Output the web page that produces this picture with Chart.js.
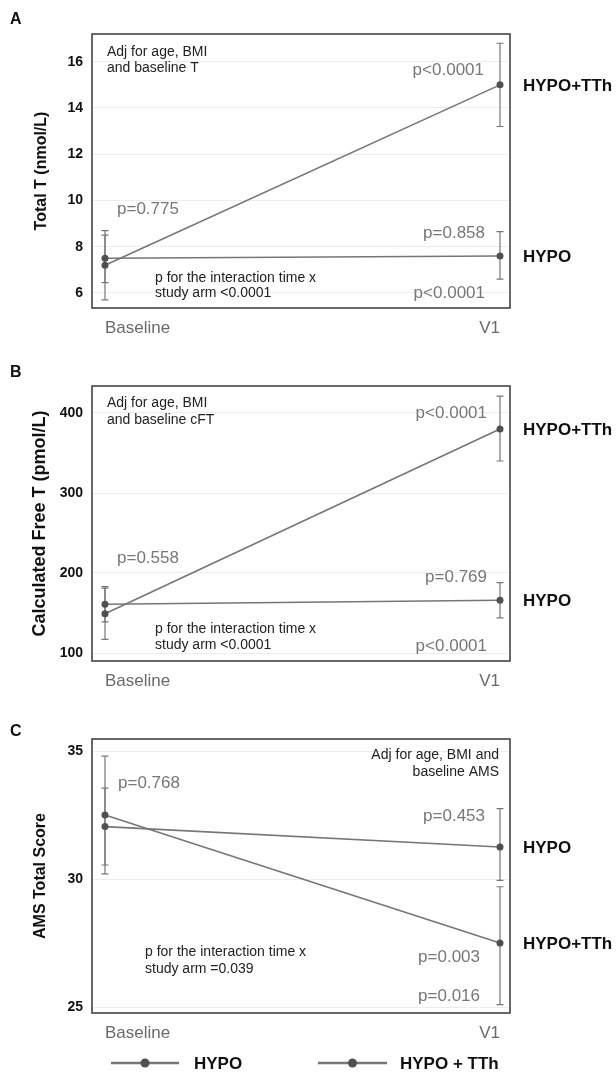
<!DOCTYPE html>
<html><head><meta charset="utf-8">
<script src="https://cdn.jsdelivr.net/npm/chart.js@4.4.1/dist/chart.umd.min.js"></script>
<style>
html,body{margin:0;padding:0;background:#fff;width:616px;height:1072px;overflow:hidden;position:relative}
canvas{position:absolute;left:0}
</style></head><body>
<canvas id="cA" width="616" height="345" style="top:0px"></canvas>
<canvas id="cB" width="616" height="355" style="top:340px"></canvas>
<canvas id="cC" width="616" height="377" style="top:695px"></canvas>
<script>
// ---------- data ----------
const timepoints = ['Baseline', 'V1'];
const seriesLabels = ['HYPO', 'HYPO+TTh'];
const legendLabels = ['HYPO', 'HYPO + TTh'];

// Panel A: Total T (nmol/L)
const hypoA = [7.5, 7.6];
const hypoA_lo = [6.45, 6.6];
const hypoA_hi = [8.5, 8.65];
const tthA = [7.2, 15.0];
const tthA_lo = [5.7, 13.2];
const tthA_hi = [8.7, 16.8];
const ticksA = [6, 8, 10, 12, 14, 16];

// Panel B: Calculated Free T (pmol/L)
const hypoB = [161, 166];
const hypoB_lo = [139, 144];
const hypoB_hi = [183, 188];
const tthB = [149, 380];
const tthB_lo = [117, 340];
const tthB_hi = [181, 421];
const ticksB = [100, 200, 300, 400];

// Panel C: AMS Total Score
const hypoC = [32.05, 31.25];
const hypoC_lo = [30.55, 29.95];
const hypoC_hi = [33.55, 32.75];
const tthC = [32.5, 27.5];
const tthC_lo = [30.2, 25.1];
const tthC_hi = [34.8, 29.7];
const ticksC = [25, 30, 35];

// ---------- drawing ----------
const FONT = '"Liberation Sans", Arial, Helvetica, sans-serif';
const GRAY = '#777777';
const LINE = '#767676';
const DOT = '#505050';

function pts(vals, lo, hi) {
  return timepoints.map((t, i) => ({x: i, y: vals[i], lo: lo[i], hi: hi[i]}));
}

function makePanel(cfg) {
  const top = cfg.canvasTop;
  const plugin = {
    id: 'panel' + cfg.letter,
    beforeDatasetsDraw(chart) {
      const {ctx} = chart;
      const x = chart.scales.x, y = chart.scales.y;
      ctx.save();
      ctx.strokeStyle = GRAY;
      ctx.lineWidth = 1.2;
      chart.data.datasets.forEach(ds => {
        ds.data.forEach(p => {
          const px = x.getPixelForValue(p.x);
          const pl = y.getPixelForValue(p.lo), ph = y.getPixelForValue(p.hi);
          ctx.beginPath();
          ctx.moveTo(px, ph); ctx.lineTo(px, pl);
          ctx.moveTo(px - 3.5, ph); ctx.lineTo(px + 3.5, ph);
          ctx.moveTo(px - 3.5, pl); ctx.lineTo(px + 3.5, pl);
          ctx.stroke();
        });
      });
      ctx.restore();
    },
    afterDraw(chart) {
      const {ctx, chartArea: ca} = chart;
      const x = chart.scales.x, y = chart.scales.y;
      ctx.save();
      // plot frame
      ctx.strokeStyle = '#444';
      ctx.lineWidth = 1.6;
      ctx.strokeRect(ca.left, ca.top, ca.right - ca.left, ca.bottom - ca.top);
      // panel letter
      ctx.fillStyle = '#111';
      ctx.font = 'bold 16px ' + FONT;
      ctx.textBaseline = 'middle';
      ctx.textAlign = 'left';
      ctx.fillText(cfg.letter, 10, cfg.letterY - top);
      // annotations
      cfg.notes.forEach(n => {
        ctx.font = (n.p ? '17px ' : '14px ') + FONT;
        ctx.fillStyle = n.p ? GRAY : '#222';
        ctx.textAlign = n.align || 'left';
        ctx.fillText(n.t, n.x, n.y - top);
      });
      // right-hand series labels at V1 values
      ctx.font = 'bold 17px ' + FONT;
      ctx.fillStyle = '#111';
      ctx.textAlign = 'left';
      chart.data.datasets.forEach((ds, i) => {
        const py = y.getPixelForValue(ds.data[ds.data.length - 1].y);
        ctx.fillText(seriesLabels[i], ca.right + 13, py + 1);
      });
      // legend
      if (cfg.legend) {
        const ly = cfg.legend.y - top;
        cfg.legend.items.forEach((it, i) => {
          ctx.strokeStyle = LINE;
          ctx.lineWidth = 2.5;
          ctx.beginPath();
          ctx.moveTo(it.x0, ly); ctx.lineTo(it.x1, ly);
          ctx.stroke();
          ctx.fillStyle = DOT;
          ctx.beginPath();
          ctx.arc((it.x0 + it.x1) / 2, ly, 4.5, 0, Math.PI * 2);
          ctx.fill();
          ctx.fillStyle = '#111';
          ctx.font = 'bold 17px ' + FONT;
          ctx.textAlign = 'left';
          ctx.fillText(legendLabels[i], it.tx, ly + 1);
        });
      }
      ctx.restore();
    }
  };

  return new Chart(document.getElementById(cfg.id), {
    type: 'line',
    data: {
      datasets: [
        {label: legendLabels[0], data: cfg.hypo},
        {label: legendLabels[1], data: cfg.tth}
      ].map(d => Object.assign(d, {
        borderColor: LINE, borderWidth: 1.6, fill: false, tension: 0,
        pointRadius: 3.5, pointBackgroundColor: DOT, pointBorderColor: DOT,
        pointBorderWidth: 0, pointHoverRadius: 3.5
      }))
    },
    options: {
      responsive: false,
      animation: false,
      devicePixelRatio: 1,
      layout: {padding: {top: cfg.padTop, right: 106, bottom: 0, left: 0}},
      plugins: {legend: {display: false}, tooltip: {enabled: false}},
      scales: {
        x: {
          type: 'linear', min: -0.0329, max: 1.0253,
          afterBuildTicks: s => { s.ticks = timepoints.map((t, i) => ({value: i})); },
          afterFit: s => { s.height = cfg.xHeight; },
          grid: {display: false}, border: {display: false},
          ticks: {
            callback: v => timepoints[v], align: 'inner', autoSkip: false,
            maxRotation: 0, padding: 2, color: '#6a6a6a',
            font: {family: FONT, size: 17}
          }
        },
        y: {
          type: 'linear', min: cfg.min, max: cfg.max,
          afterBuildTicks: s => { s.ticks = cfg.ticks.map(v => ({value: v})); },
          afterFit: s => { s.width = 92; },
          grid: {color: '#ededed', lineWidth: 1, drawTicks: false},
          border: {display: false},
          ticks: {padding: 9, color: '#111', font: {family: FONT, size: 14, weight: 'bold'}},
          title: {
            display: true, text: cfg.title, color: '#111',
            font: {family: FONT, size: cfg.titleSize, weight: 'bold'},
            padding: {top: cfg.titlePad, bottom: 0}
          }
        }
      }
    },
    plugins: [plugin]
  });
}

makePanel({
  id: 'cA', letter: 'A', letterY: 20, canvasTop: 0, padTop: 34, xHeight: 37,
  min: 5.35, max: 17.2, ticks: ticksA,
  title: 'Total T (nmol/L)', titleSize: 16, titlePad: 32,
  hypo: pts(hypoA, hypoA_lo, hypoA_hi), tth: pts(tthA, tthA_lo, tthA_hi),
  notes: [
    {t: 'Adj for age, BMI', x: 107, y: 52},
    {t: 'and baseline T', x: 107, y: 68},
    {t: 'p=0.775', x: 117, y: 209, p: true},
    {t: 'p<0.0001', x: 484, y: 70, p: true, align: 'right'},
    {t: 'p=0.858', x: 485, y: 233, p: true, align: 'right'},
    {t: 'p<0.0001', x: 485, y: 293, p: true, align: 'right'},
    {t: 'p for the interaction time x', x: 155, y: 278},
    {t: 'study arm <0.0001', x: 155, y: 293}
  ]
});

makePanel({
  id: 'cB', letter: 'B', letterY: 373, canvasTop: 340, padTop: 46, xHeight: 34,
  min: 90, max: 433.75, ticks: ticksB,
  title: 'Calculated Free T (pmol/L)', titleSize: 18, titlePad: 29,
  hypo: pts(hypoB, hypoB_lo, hypoB_hi), tth: pts(tthB, tthB_lo, tthB_hi),
  notes: [
    {t: 'Adj for age, BMI', x: 107, y: 403},
    {t: 'and baseline cFT', x: 107, y: 420},
    {t: 'p=0.558', x: 117, y: 558, p: true},
    {t: 'p<0.0001', x: 487, y: 413, p: true, align: 'right'},
    {t: 'p=0.769', x: 487, y: 577, p: true, align: 'right'},
    {t: 'p<0.0001', x: 487, y: 646, p: true, align: 'right'},
    {t: 'p for the interaction time x', x: 155, y: 629},
    {t: 'study arm <0.0001', x: 155, y: 645}
  ]
});

makePanel({
  id: 'cC', letter: 'C', letterY: 732, canvasTop: 695, padTop: 44, xHeight: 59,
  min: 24.77, max: 35.47, ticks: ticksC,
  title: 'AMS Total Score', titleSize: 16, titlePad: 31,
  hypo: pts(hypoC, hypoC_lo, hypoC_hi), tth: pts(tthC, tthC_lo, tthC_hi),
  notes: [
    {t: 'Adj for age, BMI and', x: 499, y: 755, align: 'right'},
    {t: 'baseline AMS', x: 499, y: 772, align: 'right'},
    {t: 'p=0.768', x: 118, y: 783, p: true},
    {t: 'p=0.453', x: 485, y: 816, p: true, align: 'right'},
    {t: 'p=0.003', x: 480, y: 957, p: true, align: 'right'},
    {t: 'p=0.016', x: 480, y: 996, p: true, align: 'right'},
    {t: 'p for the interaction time x', x: 145, y: 952},
    {t: 'study arm =0.039', x: 145, y: 969}
  ],
  legend: {y: 1063, items: [{x0: 111, x1: 179, tx: 194}, {x0: 318, x1: 387, tx: 400}]}
});
</script>
</body></html>
